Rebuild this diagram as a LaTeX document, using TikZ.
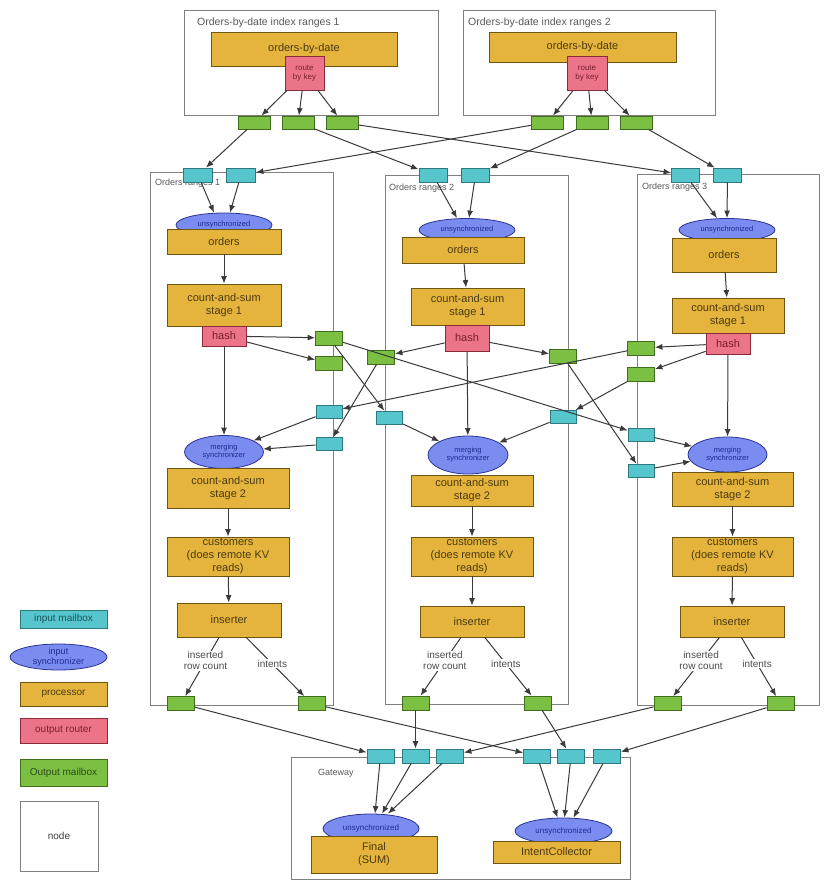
\documentclass[tikz,border=0pt]{standalone}
\usepackage{fontspec}
\setmainfont{Liberation Sans}
\usepackage{tikz}
\usetikzlibrary{shapes.geometric}
\usetikzlibrary{arrows.meta}

\definecolor{inboxfill}{HTML}{56C5CC}
\definecolor{inboxline}{HTML}{2B7A80}
\definecolor{outboxfill}{HTML}{7CC043}
\definecolor{outboxline}{HTML}{3F6E1E}
\definecolor{procfill}{HTML}{E5B43D}
\definecolor{procline}{HTML}{6F5512}
\definecolor{proctext}{HTML}{4A3A10}
\definecolor{routerfill}{HTML}{EC7488}
\definecolor{routerline}{HTML}{8A2A3A}
\definecolor{routertext}{HTML}{7A1F2F}
\definecolor{syncfill}{HTML}{7A8CF0}
\definecolor{syncline}{HTML}{2B3390}
\definecolor{synctext}{HTML}{1F2A90}
\definecolor{frameline}{HTML}{808080}
\definecolor{linkline}{HTML}{3A3A3A}

\tikzset{
  frame/.style={draw=frameline, line width=1pt, inner sep=0pt},
  topttl/.style={anchor=west, inner sep=0pt, text=black!65, font=\fontsize{10.5}{12}\selectfont},
  ttl/.style={anchor=west, inner sep=0pt, text=black!65, font=\fontsize{9}{10}\selectfont},
  inbox/.style={draw=inboxline, fill=inboxfill, line width=0.8pt, minimum width=26pt, minimum height=13pt, inner sep=0pt},
  outbox/.style={draw=outboxline, fill=outboxfill, line width=0.8pt, minimum width=27pt, minimum height=14pt, inner sep=0pt},
  proc/.style={draw=procline, fill=procfill, line width=0.8pt, text=proctext, align=center, inner sep=0pt, font=\fontsize{11}{13}\selectfont},
  router/.style={draw=routerline, fill=routerfill, line width=0.8pt, text=routertext, align=center, inner sep=0pt, font=\fontsize{11}{13}\selectfont},
  sync/.style={ellipse, draw=syncline, fill=syncfill, line width=0.8pt, text=synctext, align=center, inner sep=0pt, font=\fontsize{7.5}{8}\selectfont},
  link/.style={draw=linkline, line width=1pt, -{Latex[length=7.5pt,width=6pt]}},
  lbl/.style={fill=white, inner sep=1pt, text=black!70, align=center, font=\fontsize{10}{11}\selectfont}
}

\begin{document}
\begin{tikzpicture}[x=1pt,y=-1pt]
  \fill[white] (0,0) rectangle (830,890);
  \useasboundingbox (0,0) rectangle (830,890);

  \node[frame, minimum width=254pt, minimum height=105pt] (obd1) at (311,63.5) {};
  \node[frame, minimum width=252pt, minimum height=105pt] (obd2) at (589,63.5) {};
  \node[frame, minimum width=183pt, minimum height=532pt] (rng1) at (241.5,439) {};
  \node[frame, minimum width=183pt, minimum height=528pt] (rng2) at (476.5,440) {};
  \node[frame, minimum width=182pt, minimum height=530pt] (rng3) at (728,440) {};
  \node[frame, minimum width=339pt, minimum height=122pt] (gway) at (460.5,818) {};
  \node[topttl] (obd1t) at (197,23) {Orders-by-date index ranges 1};
  \node[topttl] (obd2t) at (468,23) {Orders-by-date index ranges 2};
  \node[ttl] (rng1t) at (155,183) {Orders ranges 1};
  \node[ttl] (rng2t) at (389,188) {Orders ranges 2};
  \node[ttl] (rng3t) at (642,187) {Orders ranges 3};
  \node[ttl] (gwayt) at (318,773) {Gateway};

  \node[proc, minimum width=186pt, minimum height=34pt] (obdp1) at (304,49) {orders-by-date};
  \node[router, minimum width=39pt, minimum height=34pt, font=\fontsize{8}{9}\selectfont] (rt1) at (304.5,73) {route\\by key};
  \node[proc, minimum width=187pt, minimum height=30pt] (obdp2) at (582.5,47) {orders-by-date};
  \node[router, minimum width=40pt, minimum height=34pt, font=\fontsize{8}{9}\selectfont] (rt2) at (587,73) {route\\by key};
  \node[outbox, minimum width=32pt, minimum height=13pt] (o1a) at (254.5,122.5) {};
  \node[outbox, minimum width=32pt, minimum height=13pt] (o1b) at (298,122.5) {};
  \node[outbox, minimum width=32pt, minimum height=13pt] (o1c) at (342.5,122.5) {};
  \node[outbox, minimum width=32pt, minimum height=13pt] (o2a) at (547.5,122.5) {};
  \node[outbox, minimum width=32pt, minimum height=13pt] (o2b) at (592,122.5) {};
  \node[outbox, minimum width=32pt, minimum height=13pt] (o2c) at (636.5,122.5) {};

  \node[inbox, minimum width=29pt, minimum height=14pt] (t1a) at (198,175) {};
  \node[inbox, minimum width=29pt, minimum height=14pt] (t1b) at (241,175) {};
  \node[inbox, minimum width=28pt, minimum height=14pt] (t2a) at (433,175) {};
  \node[inbox, minimum width=28pt, minimum height=14pt] (t2b) at (475.5,175) {};
  \node[inbox, minimum width=28pt, minimum height=14pt] (t3a) at (685.5,175) {};
  \node[inbox, minimum width=28pt, minimum height=14pt] (t3b) at (727.5,175) {};

  \node[sync, minimum width=96pt, minimum height=24pt] (us1) at (224,225) {unsynchronized};
  \node[proc, minimum width=114pt, minimum height=25pt] (ord1) at (224,241.5) {orders};
  \node[proc, minimum width=114pt, minimum height=42pt] (cs1a) at (224,305) {count-and-sum\\stage 1};
  \node[router, minimum width=44pt, minimum height=20pt] (h1) at (224,336) {hash};
  \node[sync, minimum width=79pt, minimum height=33pt] (ms1) at (224,452) {merging\\synchronizer};
  \node[proc, minimum width=122pt, minimum height=40pt] (cs1b) at (228,488) {count-and-sum\\stage 2};
  \node[proc, minimum width=122pt, minimum height=39pt] (cu1) at (228,556.5) {customers\\(does remote KV\\reads)};
  \node[proc, minimum width=104pt, minimum height=34pt] (ins1) at (229,620) {inserter};

  \node[sync, minimum width=96pt, minimum height=23pt] (us2) at (467,230) {unsynchronized};
  \node[proc, minimum width=122pt, minimum height=26pt] (ord2) at (463,250) {orders};
  \node[proc, minimum width=113pt, minimum height=37pt] (cs2a) at (467.5,306.5) {count-and-sum\\stage 1};
  \node[router, minimum width=44pt, minimum height=26pt] (h2) at (467,338) {hash};
  \node[sync, minimum width=80pt, minimum height=38pt] (ms2) at (468,455) {merging\\synchronizer};
  \node[proc, minimum width=122pt, minimum height=31pt] (cs2b) at (472,490.5) {count-and-sum\\stage 2};
  \node[proc, minimum width=122pt, minimum height=39pt] (cu2) at (472,556.5) {customers\\(does remote KV\\reads)};
  \node[proc, minimum width=104pt, minimum height=31pt] (ins2) at (472,621.5) {inserter};

  \node[sync, minimum width=96pt, minimum height=23pt] (us3) at (727,230) {unsynchronized};
  \node[proc, minimum width=104pt, minimum height=34pt] (ord3) at (724,255) {orders};
  \node[proc, minimum width=112pt, minimum height=35pt] (cs3a) at (728,315.5) {count-and-sum\\stage 1};
  \node[router, minimum width=44pt, minimum height=21pt] (h3) at (728,343.5) {hash};
  \node[sync, minimum width=79pt, minimum height=35pt] (ms3) at (727.5,454.5) {merging\\synchronizer};
  \node[proc, minimum width=121pt, minimum height=34pt] (cs3b) at (732.5,489) {count-and-sum\\stage 2};
  \node[proc, minimum width=121pt, minimum height=39pt] (cu3) at (732.5,556.5) {customers\\(does remote KV\\reads)};
  \node[proc, minimum width=104pt, minimum height=31pt] (ins3) at (732,621.5) {inserter};

  \node[outbox] (m1a) at (329,338) {};
  \node[outbox] (m1b) at (329,363.5) {};
  \node[inbox] (i1a) at (329,411.5) {};
  \node[inbox] (i1b) at (329,444) {};
  \node[outbox] (m2a) at (381,357) {};
  \node[inbox] (i2a) at (389.5,417.5) {};
  \node[outbox] (m2b) at (563,356.5) {};
  \node[inbox] (i2b) at (563,417) {};
  \node[outbox] (m3a) at (641,348) {};
  \node[outbox] (m3b) at (641,374) {};
  \node[inbox] (i3a) at (641,434.5) {};
  \node[inbox] (i3b) at (641,470.5) {};

  \node[outbox] (rc1) at (181,703.5) {};
  \node[outbox] (it1) at (311.5,703.5) {};
  \node[outbox] (rc2) at (415.5,703) {};
  \node[outbox] (it2) at (537.5,703) {};
  \node[outbox] (rc3) at (667.5,703.5) {};
  \node[outbox] (it3) at (780.5,703.5) {};

  \node[inbox, minimum width=27pt, minimum height=14pt] (gw1) at (380.5,756) {};
  \node[inbox, minimum width=27pt, minimum height=14pt] (gw2) at (415.5,756) {};
  \node[inbox, minimum width=27pt, minimum height=14pt] (gw3) at (450,756) {};
  \node[inbox, minimum width=27pt, minimum height=14pt] (gw4) at (537,756) {};
  \node[inbox, minimum width=27pt, minimum height=14pt] (gw5) at (571,756) {};
  \node[inbox, minimum width=27pt, minimum height=14pt] (gw6) at (607,756) {};
  \node[sync, minimum width=96pt, minimum height=29pt, font=\fontsize{8}{9}\selectfont] (fsy) at (371,828.5) {unsynchronized};
  \node[proc, minimum width=126pt, minimum height=37pt] (fin) at (374,854.5) {Final\\(SUM)};
  \node[sync, minimum width=97pt, minimum height=26pt, font=\fontsize{8}{9}\selectfont] (isy) at (563.5,831) {unsynchronized};
  \node[proc, minimum width=127pt, minimum height=22pt] (icol) at (556.5,852) {IntentCollector};

  \node[inbox, minimum width=87pt, minimum height=18pt, text=inboxline!70!black, font=\fontsize{10}{11}\selectfont] (leg1) at (63.5,619) {input mailbox};
  \node[sync, minimum width=97pt, minimum height=23pt, font=\fontsize{9}{10}\selectfont] (leg2) at (58.5,657) {input\\synchronizer};
  \node[proc, minimum width=87pt, minimum height=24pt, font=\fontsize{10}{11}\selectfont] (leg3) at (63.5,694) {processor};
  \node[router, minimum width=87pt, minimum height=25pt, font=\fontsize{10}{11}\selectfont] (leg4) at (63.5,730.5) {output router};
  \node[outbox, minimum width=87pt, minimum height=27pt, text=outboxline!70!black, font=\fontsize{10}{11}\selectfont] (leg5) at (63.5,772.5) {Output mailbox};
  \node[frame, fill=white, minimum width=78pt, minimum height=70pt, text=black!75, font=\fontsize{10}{11}\selectfont] (leg6) at (59,836) {node};

  \draw[link] (rt1) -- (o1a);
  \draw[link] (rt1) -- (o1b);
  \draw[link] (rt1) -- (o1c);
  \draw[link] (rt2) -- (o2a);
  \draw[link] (rt2) -- (o2b);
  \draw[link] (rt2) -- (o2c);
  \draw[link] (o1a) -- (t1a);
  \draw[link] (o1b) -- (t2a);
  \draw[link] (o1c) -- (t3a);
  \draw[link] (o2a) -- (t1b);
  \draw[link] (o2b) -- (t2b);
  \draw[link] (o2c) -- (t3b);

  \draw[link] (t1a) -- ([xshift=-10pt]us1.north);
  \draw[link] (t1b) -- ([xshift=6pt]us1.north);
  \draw[link] (t2a) -- ([xshift=-10pt]us2.north);
  \draw[link] (t2b) -- ([xshift=2pt]us2.north);
  \draw[link] (t3a) -- ([xshift=-10pt]us3.north);
  \draw[link] (t3b) -- (us3.north);
  \draw[link] (ord1) -- (cs1a);
  \draw[link] (ord2) -- (cs2a);
  \draw[link] (ord3) -- (cs3a);

  \draw[link] (h1) -- (m1a);
  \draw[link] (h1) -- (m1b);
  \draw[link] (h2) -- (m2a);
  \draw[link] (h2) -- (m2b);
  \draw[link] (h3) -- (m3a);
  \draw[link] (h3) -- (m3b);
  \draw[link] (h1) -- (ms1);
  \draw[link] (h2) -- (ms2);
  \draw[link] (h3) -- (ms3);
  \draw[link] (m1a) -- (i2a);
  \draw[link] (m1a) -- (i3a);
  \draw[link] (m2a) -- (i1b);
  \draw[link] (m2b) -- (i3b);
  \draw[link] (m3a) -- (i1a);
  \draw[link] (m3b) -- (i2b);
  \draw[link] (i1a) -- (ms1);
  \draw[link] (i1b) -- (ms1);
  \draw[link] (i2a) -- (ms2);
  \draw[link] (i2b) -- (ms2);
  \draw[link] (i3a) -- (ms3);
  \draw[link] (i3b) -- (ms3);

  \draw[link] (cs1b) -- (cu1);
  \draw[link] (cu1) -- (ins1);
  \draw[link] (cs2b) -- (cu2);
  \draw[link] (cu2) -- (ins2);
  \draw[link] (cs3b) -- (cu3);
  \draw[link] (cu3) -- (ins3);
  \draw[link] (ins1) -- node[lbl, pos=0.4] {inserted\\row count} (rc1);
  \draw[link] (ins1) -- node[lbl, pos=0.45] {intents} (it1);
  \draw[link] (ins2) -- node[lbl, pos=0.4] {inserted\\row count} (rc2);
  \draw[link] (ins2) -- node[lbl, pos=0.45] {intents} (it2);
  \draw[link] (ins3) -- node[lbl, pos=0.4] {inserted\\row count} (rc3);
  \draw[link] (ins3) -- node[lbl, pos=0.45] {intents} (it3);

  \draw[link] (rc1) -- (gw1);
  \draw[link] (rc2) -- (gw2);
  \draw[link] (rc3) -- (gw3);
  \draw[link] (it1) -- (gw4);
  \draw[link] (it2) -- (gw5);
  \draw[link] (it3) -- (gw6);
  \draw[link] (gw1) -- ([xshift=4pt]fsy.north);
  \draw[link] (gw2) -- ([xshift=11pt]fsy.north);
  \draw[link] (gw3) -- ([xshift=17pt]fsy.north);
  \draw[link] (gw4) -- ([xshift=-6pt]isy.north);
  \draw[link] (gw5) -- ([xshift=1pt]isy.north);
  \draw[link] (gw6) -- ([xshift=10pt]isy.north);
\end{tikzpicture}
\end{document}
